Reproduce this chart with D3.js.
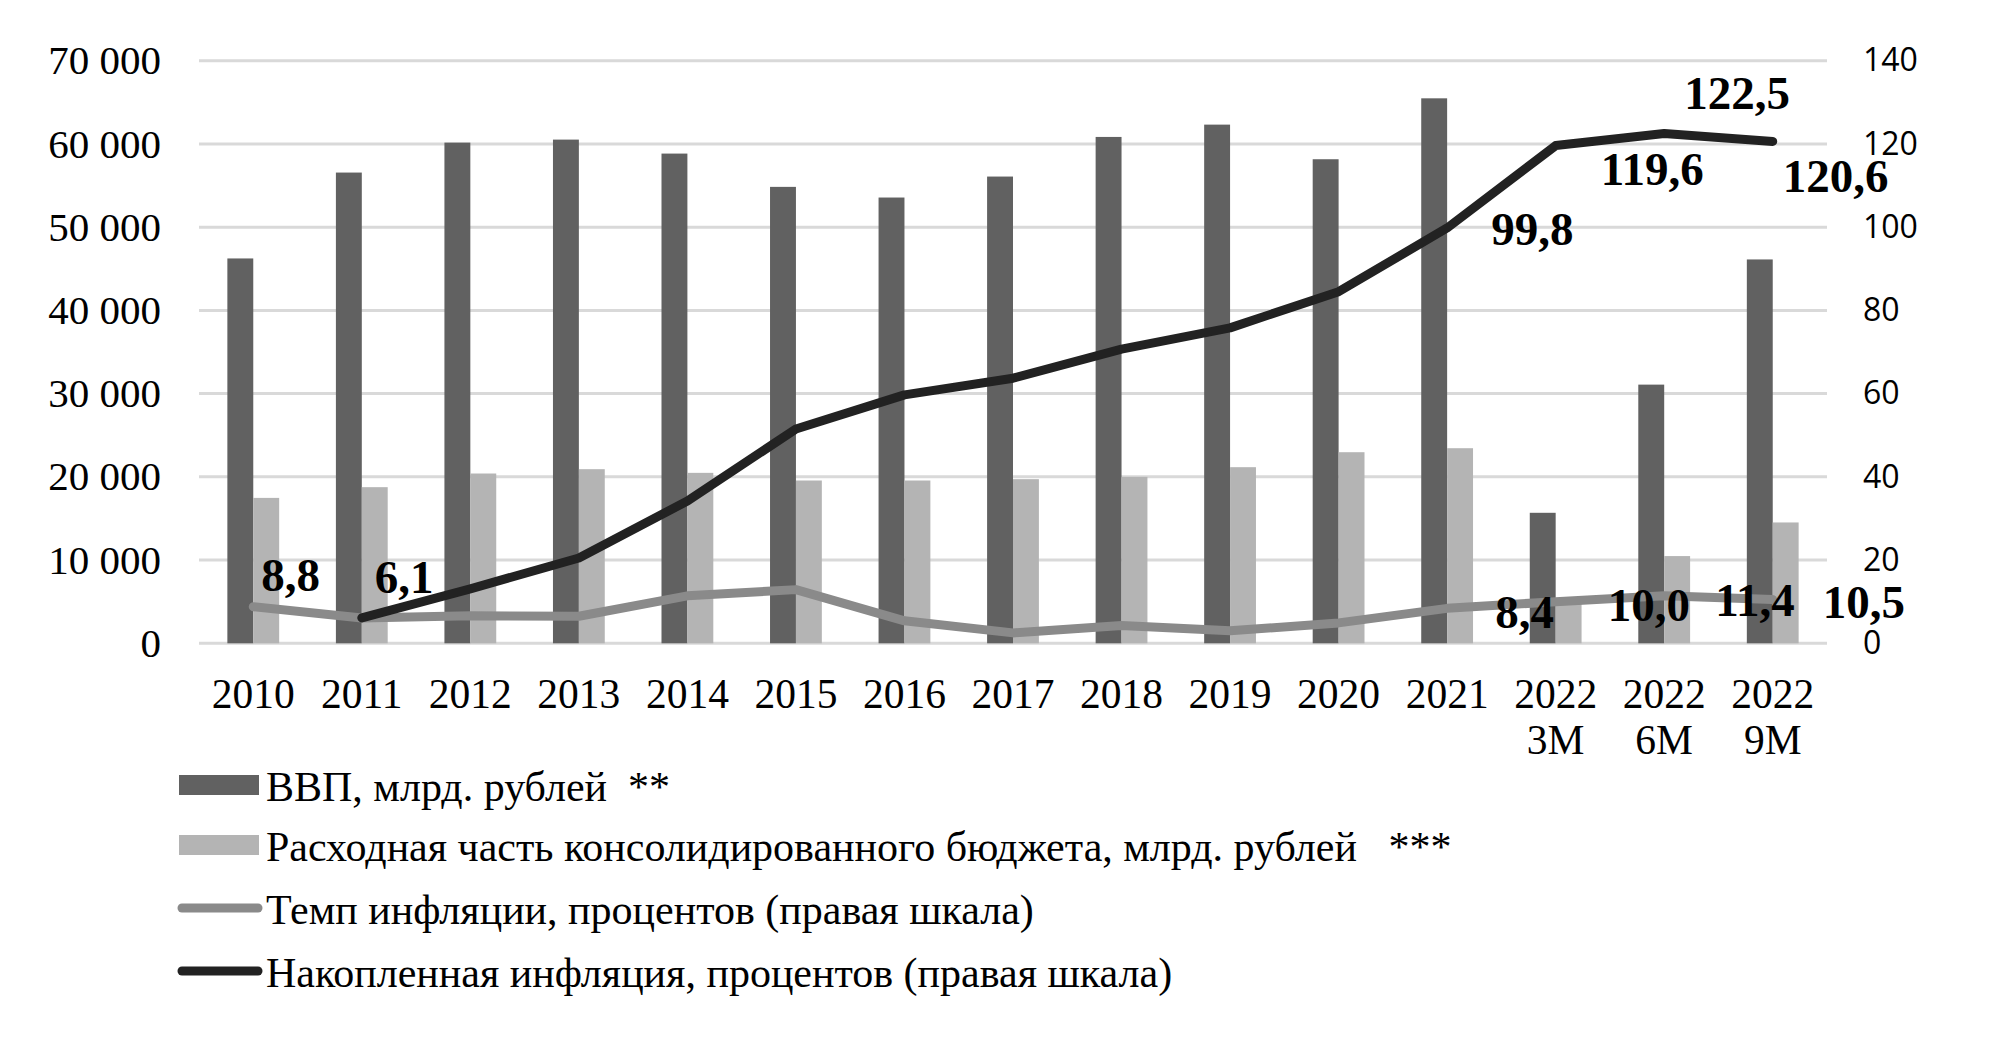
<!DOCTYPE html>
<html><head><meta charset="utf-8">
<script src="https://cdn.jsdelivr.net/npm/d3@7"></script>
<style>
body{margin:0;background:#fff;}
svg{display:block;}
</style></head>
<body><svg id="chart" width="1992" height="1050" font-family="Liberation Serif, Times New Roman, serif"></svg>
<script>
const categories = ["2010","2011","2012","2013","2014","2015","2016","2017","2018","2019","2020","2021","2022 3M","2022 6M","2022 9M"];
const gdp = [46240,56560,60160,60520,58840,54840,53560,56080,60840,62320,58160,65480,15680,31080,46120];
const budget = [17470,18760,20400,20920,20480,19560,19560,19720,20000,21160,22960,23440,5000,10480,14520];
const inflationRate = [8.8,6.1,6.6,6.5,11.4,12.9,5.4,2.5,4.3,3.0,4.9,8.4,10.0,11.4,10.5];
const accumulated = [null,6.1,13.1,20.5,34.2,51.5,59.7,63.7,70.7,75.8,84.5,99.8,119.6,122.5,120.6];
const leftTicks = [0,10000,20000,30000,40000,50000,60000,70000];
const rightTicks = [0,20,40,60,80,100,120,140];
const rateLabels = ["8,8","6,1",null,null,null,null,null,null,null,null,null,"8,4","10,0","11,4","10,5"];
const accLabels = [null,null,null,null,null,null,null,null,null,null,null,"99,8","119,6","122,5","120,6"];
const legendItems = ["ВВП, млрд. рублей  **","Расходная часть консолидированного бюджета, млрд. рублей   ***","Темп инфляции, процентов (правая шкала)","Накопленная инфляция, процентов (правая шкала)"];

// label offsets (style, not data)
const rateOffsets = {0:[8,-31],1:[13,-40],11:[48,4],12:[52,4],13:[51,5],14:[50,3]};
const accOffsets = {11:[44,2],12:[45,24],13:[20,-40],14:[10,35]};

const SERIF = "Liberation Serif, Times New Roman, serif";
const svg = d3.select("#chart");
const L=199, R=1827, T=60.7, B=643.3;
const x = d3.scaleBand().domain(categories).range([L,R]).padding(0);
const xs = d3.scaleBand().domain(["gdp","budget"]).range([0,x.bandwidth()]).paddingInner(0).paddingOuter(1.095);
const yL = d3.scaleLinear().domain([0,70000]).range([B,T]);
const yR = d3.scaleLinear().domain([0,140]).range([B,T]);

// gridlines
svg.append("g").selectAll("line").data(leftTicks).join("line")
  .attr("x1",L).attr("x2",R).attr("y1",d=>yL(d)).attr("y2",d=>yL(d))
  .attr("stroke","#d9d9d9").attr("stroke-width",3);

// bars
const gBars = svg.append("g");
gBars.selectAll(".gdp").data(gdp).join("rect")
  .attr("x",(d,i)=>x(categories[i])+xs("gdp")).attr("width",xs.bandwidth())
  .attr("y",d=>yL(d)).attr("height",d=>B-yL(d)).attr("fill","#616161");
gBars.selectAll(".bud").data(budget).join("rect")
  .attr("x",(d,i)=>x(categories[i])+xs("budget")).attr("width",xs.bandwidth())
  .attr("y",d=>yL(d)).attr("height",d=>B-yL(d)).attr("fill","#b4b4b4");

// left axis
const fmt = d3.formatLocale({decimal:",",thousands:" ",grouping:[3],currency:["",""]}).format(",");
const axL = d3.axisLeft(yL).tickValues(leftTicks).tickSize(0).tickPadding(38).tickFormat(fmt);
const gL = svg.append("g").attr("transform",`translate(${L},0)`).call(axL);
gL.select(".domain").remove();
gL.attr("font-family",null).attr("font-size",null);
gL.selectAll("text").style("font-family",SERIF).style("font-size","41px").attr("fill","#000");

// right axis
const axR = d3.axisRight(yR).tickValues(rightTicks).tickSize(0).tickPadding(36);
const gR = svg.append("g").attr("transform",`translate(${R},0)`).call(axR);
gR.select(".domain").remove();
gR.selectAll("text").style("font-family","'Open Sans', Lato, sans-serif").style("font-size","32px").attr("fill","#000");

// x axis labels
const cx = c => x(c)+x.bandwidth()/2;
const gX = svg.append("g");
categories.forEach(c=>{
  const parts = c.split(" ");
  const t = gX.append("text").attr("text-anchor","middle").style("font-family",SERIF).style("font-size","41.5px").attr("fill","#000");
  parts.forEach((p,j)=>t.append("tspan").attr("x",cx(c)).attr("y",708+j*46).text(p));
});

// lines
const rateLine = d3.line().x((d,i)=>cx(categories[i])).y(d=>yR(d));
svg.append("path").datum(inflationRate).attr("d",rateLine)
  .attr("fill","none").attr("stroke","#8a8a8a").attr("stroke-width",9).attr("stroke-linejoin","round").attr("stroke-linecap","round");
const accLine = d3.line().defined(d=>d!==null).x((d,i)=>cx(categories[i])).y(d=>yR(d));
svg.append("path").datum(accumulated).attr("d",accLine)
  .attr("fill","none").attr("stroke","#222").attr("stroke-width",9).attr("stroke-linejoin","round").attr("stroke-linecap","round");

// data labels
const gLab = svg.append("g").style("font-family",SERIF).style("font-weight","bold").style("font-size","47px").attr("fill","#000");
rateLabels.forEach((t,i)=>{ if(!t) return; const o=rateOffsets[i];
  gLab.append("text").attr("x",cx(categories[i])+o[0]).attr("y",yR(inflationRate[i])+o[1]).attr("dy","0.33em").text(t);});
accLabels.forEach((t,i)=>{ if(!t) return; const o=accOffsets[i];
  gLab.append("text").attr("x",cx(categories[i])+o[0]).attr("y",yR(accumulated[i])+o[1]).attr("dy","0.33em").text(t);});

// legend
const legY = [787,847,910,973];
const gLeg = svg.append("g");
legendItems.forEach((t,i)=>{
  if(i<2){
    gLeg.append("rect").attr("x",179).attr("y",legY[i]-12).attr("width",80).attr("height",20).attr("fill",i==0?"#616161":"#b4b4b4");
  } else {
    gLeg.append("line").attr("x1",182).attr("x2",258).attr("y1",legY[i]-2).attr("y2",legY[i]-2)
      .attr("stroke",i==2?"#8a8a8a":"#222").attr("stroke-width",9).attr("stroke-linecap","round");
  }
  gLeg.append("text").attr("x",266).attr("y",legY[i]).attr("dy","0.33em").style("font-family",SERIF).style("font-size","42px")
    .attr("fill","#000").style("white-space","pre").text(t);
});
</script></body></html>
